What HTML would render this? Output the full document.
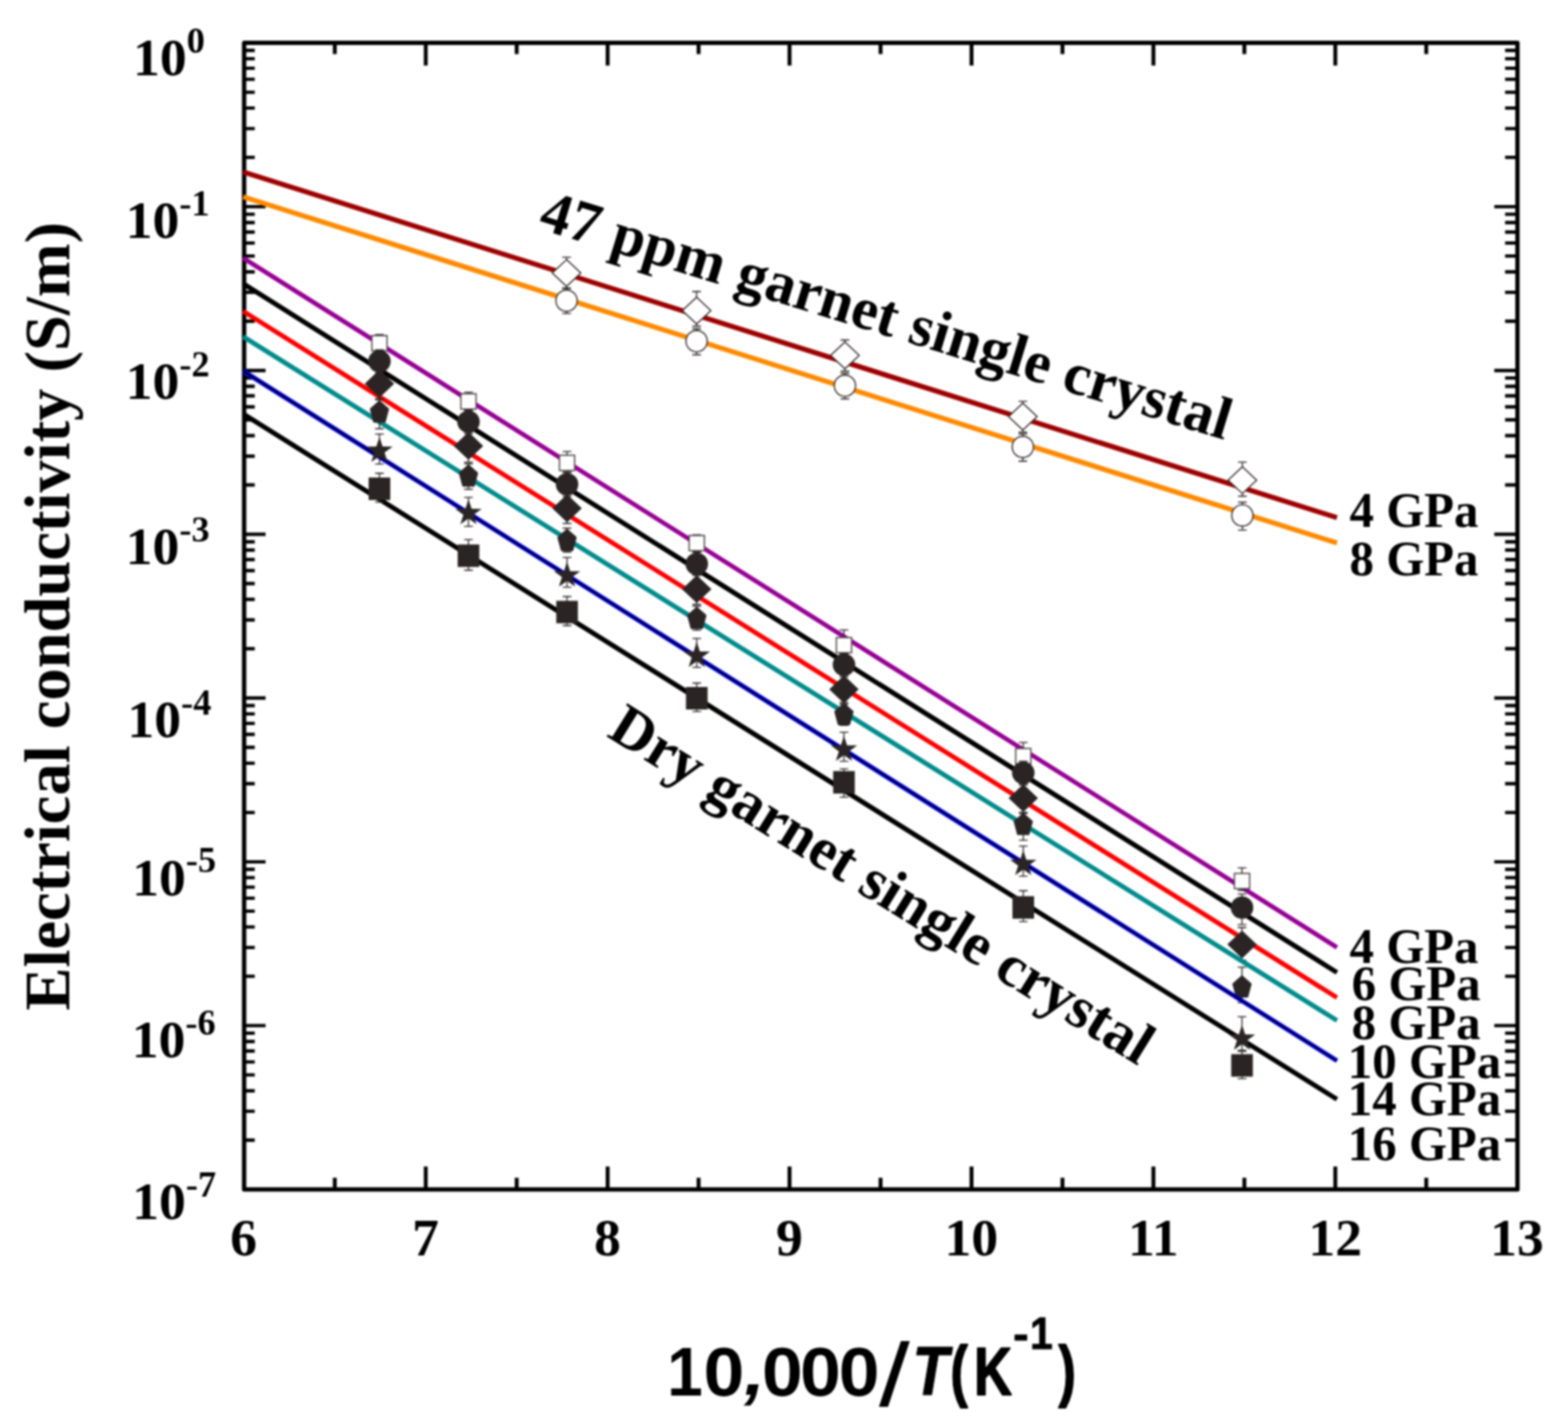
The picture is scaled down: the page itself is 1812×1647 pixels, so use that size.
<!DOCTYPE html>
<html lang="en"><head><meta charset="utf-8"><title>Electrical conductivity of garnet single crystal</title>
<style>
html,body{margin:0;padding:0;background:#fff;}
body{width:1812px;height:1647px;overflow:hidden;}
svg{display:block;}
text{font-family:"Liberation Serif",serif;font-weight:bold;fill:#000;}
.sans{font-family:"Liberation Sans",sans-serif;font-weight:bold;}
</style></head><body>
<svg width="1812" height="1647" viewBox="0 0 1812 1647">
<defs><filter id="soft" x="0" y="0" width="1812" height="1647" filterUnits="userSpaceOnUse" color-interpolation-filters="sRGB"><feGaussianBlur stdDeviation="0.85"/></filter></defs>
<rect x="0" y="0" width="1812" height="1647" fill="#ffffff"/>
<g filter="url(#soft)">
<rect x="0" y="0" width="1812" height="1647" fill="#ffffff"/>
<g id="axes" stroke="#000" fill="none" stroke-linecap="butt">
<rect x="282.1" y="49.6" width="1471.5" height="1325.1" stroke-width="5.0" stroke-linejoin="round"/>
<path stroke-width="4.5" d="M386.9 1374.7V1361.2M386.9 49.6V62.4M492.0 1374.7V1348.2M492.0 49.6V75.7M597.1 1374.7V1361.2M597.1 49.6V62.4M702.2 1374.7V1348.2M702.2 49.6V75.7M807.3 1374.7V1361.2M807.3 49.6V62.4M912.4 1374.7V1348.2M912.4 49.6V75.7M1017.6 1374.7V1361.2M1017.6 49.6V62.4M1122.7 1374.7V1348.2M1122.7 49.6V75.7M1227.8 1374.7V1361.2M1227.8 49.6V62.4M1332.9 1374.7V1348.2M1332.9 49.6V75.7M1438.0 1374.7V1361.2M1438.0 49.6V62.4M1543.1 1374.7V1348.2M1543.1 49.6V75.7M1648.2 1374.7V1361.2M1648.2 49.6V62.4"/>
<path stroke-width="3.9" d="M282.1 181.9H294.4M1753.6 181.9H1739.3M282.1 148.6H294.4M1753.6 148.6H1739.3M282.1 124.9H294.4M1753.6 124.9H1739.3M282.1 106.6H294.4M1753.6 106.6H1739.3M282.1 91.6H294.4M1753.6 91.6H1739.3M282.1 78.9H294.4M1753.6 78.9H1739.3M282.1 67.9H294.4M1753.6 67.9H1739.3M282.1 58.3H294.4M1753.6 58.3H1739.3M282.1 238.9H306.9M1753.6 238.9H1726.8M282.1 371.2H294.4M1753.6 371.2H1739.3M282.1 337.9H294.4M1753.6 337.9H1739.3M282.1 314.2H294.4M1753.6 314.2H1739.3M282.1 295.9H294.4M1753.6 295.9H1739.3M282.1 280.9H294.4M1753.6 280.9H1739.3M282.1 268.2H294.4M1753.6 268.2H1739.3M282.1 257.2H294.4M1753.6 257.2H1739.3M282.1 247.6H294.4M1753.6 247.6H1739.3M282.1 428.2H306.9M1753.6 428.2H1726.8M282.1 560.5H294.4M1753.6 560.5H1739.3M282.1 527.2H294.4M1753.6 527.2H1739.3M282.1 503.5H294.4M1753.6 503.5H1739.3M282.1 485.2H294.4M1753.6 485.2H1739.3M282.1 470.2H294.4M1753.6 470.2H1739.3M282.1 457.5H294.4M1753.6 457.5H1739.3M282.1 446.5H294.4M1753.6 446.5H1739.3M282.1 436.9H294.4M1753.6 436.9H1739.3M282.1 617.5H306.9M1753.6 617.5H1726.8M282.1 749.8H294.4M1753.6 749.8H1739.3M282.1 716.5H294.4M1753.6 716.5H1739.3M282.1 692.8H294.4M1753.6 692.8H1739.3M282.1 674.5H294.4M1753.6 674.5H1739.3M282.1 659.5H294.4M1753.6 659.5H1739.3M282.1 646.8H294.4M1753.6 646.8H1739.3M282.1 635.8H294.4M1753.6 635.8H1739.3M282.1 626.2H294.4M1753.6 626.2H1739.3M282.1 806.8H306.9M1753.6 806.8H1726.8M282.1 939.1H294.4M1753.6 939.1H1739.3M282.1 905.8H294.4M1753.6 905.8H1739.3M282.1 882.1H294.4M1753.6 882.1H1739.3M282.1 863.8H294.4M1753.6 863.8H1739.3M282.1 848.8H294.4M1753.6 848.8H1739.3M282.1 836.1H294.4M1753.6 836.1H1739.3M282.1 825.1H294.4M1753.6 825.1H1739.3M282.1 815.5H294.4M1753.6 815.5H1739.3M282.1 996.1H306.9M1753.6 996.1H1726.8M282.1 1128.4H294.4M1753.6 1128.4H1739.3M282.1 1095.1H294.4M1753.6 1095.1H1739.3M282.1 1071.4H294.4M1753.6 1071.4H1739.3M282.1 1053.1H294.4M1753.6 1053.1H1739.3M282.1 1038.1H294.4M1753.6 1038.1H1739.3M282.1 1025.4H294.4M1753.6 1025.4H1739.3M282.1 1014.4H294.4M1753.6 1014.4H1739.3M282.1 1004.8H294.4M1753.6 1004.8H1739.3M282.1 1185.4H306.9M1753.6 1185.4H1726.8M282.1 1317.7H294.4M1753.6 1317.7H1739.3M282.1 1284.4H294.4M1753.6 1284.4H1739.3M282.1 1260.7H294.4M1753.6 1260.7H1739.3M282.1 1242.4H294.4M1753.6 1242.4H1739.3M282.1 1227.4H294.4M1753.6 1227.4H1739.3M282.1 1214.7H294.4M1753.6 1214.7H1739.3M282.1 1203.7H294.4M1753.6 1203.7H1739.3M282.1 1194.1H294.4M1753.6 1194.1H1739.3"/>
</g>
<g id="series" stroke-linecap="butt">
<g id="wet4">
<line x1="281.1" y1="198.7" x2="1545.0" y2="598.3" stroke="#9e0000" stroke-width="5.8"/>
<path d="M654.7 297.3V333.0M649.7 297.3H659.7M649.7 333.0H659.7" stroke="#2b2424" stroke-width="1.3" fill="none"/><polygon points="654.7,300.1 671.2,315.6 654.7,331.1 638.2,315.6" fill="#fff" stroke="#2b2424" stroke-width="1.4"/>
<path d="M805.0 337.0V377.0M800.0 337.0H810.0M800.0 377.0H810.0" stroke="#2b2424" stroke-width="1.3" fill="none"/><polygon points="805.0,343.5 821.5,359.0 805.0,374.5 788.5,359.0" fill="#fff" stroke="#2b2424" stroke-width="1.4"/>
<path d="M976.4 393.0V429.0M971.4 393.0H981.4M971.4 429.0H981.4" stroke="#2b2424" stroke-width="1.3" fill="none"/><polygon points="976.4,395.3 992.9,410.8 976.4,426.3 959.9,410.8" fill="#fff" stroke="#2b2424" stroke-width="1.4"/>
<path d="M1182.0 463.8V499.5M1177.0 463.8H1187.0M1177.0 499.5H1187.0" stroke="#2b2424" stroke-width="1.3" fill="none"/><polygon points="1182.0,466.0 1198.5,481.5 1182.0,497.0 1165.5,481.5" fill="#fff" stroke="#2b2424" stroke-width="1.4"/>
<path d="M1435.7 534.2V573.5M1430.7 534.2H1440.7M1430.7 573.5H1440.7" stroke="#2b2424" stroke-width="1.3" fill="none"/><polygon points="1435.7,539.4 1452.2,554.9 1435.7,570.4 1419.2,554.9" fill="#fff" stroke="#2b2424" stroke-width="1.4"/>
</g>
<g id="wet8">
<line x1="281.1" y1="227.5" x2="1545.0" y2="627.6" stroke="#ff8a00" stroke-width="5.8"/>
<path d="M654.7 333.5V362.4M649.7 333.5H659.7M649.7 362.4H659.7" stroke="#2b2424" stroke-width="1.3" fill="none"/><circle cx="654.7" cy="347.5" r="12.3" fill="#fff" stroke="#2b2424" stroke-width="1.4"/>
<path d="M805.0 380.0V410.0M800.0 380.0H810.0M800.0 410.0H810.0" stroke="#2b2424" stroke-width="1.3" fill="none"/><circle cx="805.0" cy="394.3" r="12.3" fill="#fff" stroke="#2b2424" stroke-width="1.4"/>
<path d="M976.4 431.5V461.0M971.4 431.5H981.4M971.4 461.0H981.4" stroke="#2b2424" stroke-width="1.3" fill="none"/><circle cx="976.4" cy="445.8" r="12.3" fill="#fff" stroke="#2b2424" stroke-width="1.4"/>
<path d="M1182.0 501.5V533.0M1177.0 501.5H1187.0M1177.0 533.0H1187.0" stroke="#2b2424" stroke-width="1.3" fill="none"/><circle cx="1182.0" cy="516.5" r="12.3" fill="#fff" stroke="#2b2424" stroke-width="1.4"/>
<path d="M1435.7 580.5V612.6M1430.7 580.5H1440.7M1430.7 612.6H1440.7" stroke="#2b2424" stroke-width="1.3" fill="none"/><circle cx="1435.7" cy="595.7" r="12.3" fill="#fff" stroke="#2b2424" stroke-width="1.4"/>
</g>
<g id="dry16">
<line x1="281.1" y1="478.4" x2="1545.0" y2="1270.5" stroke="#000000" stroke-width="5.6"/>
<path d="M438.5 547.0V580.3M433.5 547.0H443.5M433.5 580.3H443.5" stroke="#2b2424" stroke-width="1.3" fill="none"/><rect x="426.0" y="551.9" width="25" height="26" fill="#2b2424"/>
<path d="M541.4 623.6V659.0M536.4 623.6H546.4M536.4 659.0H546.4" stroke="#2b2424" stroke-width="1.3" fill="none"/><rect x="528.9" y="629.3" width="25" height="26" fill="#2b2424"/>
<path d="M655.3 689.5V723.0M650.3 689.5H660.3M650.3 723.0H660.3" stroke="#2b2424" stroke-width="1.3" fill="none"/><rect x="642.8" y="694.4" width="25" height="26" fill="#2b2424"/>
<path d="M805.2 789.5V822.3M800.2 789.5H810.2M800.2 822.3H810.2" stroke="#2b2424" stroke-width="1.3" fill="none"/><rect x="792.7" y="794.0" width="25" height="26" fill="#2b2424"/>
<path d="M975.3 888.6V921.4M970.3 888.6H980.3M970.3 921.4H980.3" stroke="#2b2424" stroke-width="1.3" fill="none"/><rect x="962.8" y="891.2" width="25" height="26" fill="#2b2424"/>
<path d="M1182.5 1029.5V1065.2M1177.5 1029.5H1187.5M1177.5 1065.2H1187.5" stroke="#2b2424" stroke-width="1.3" fill="none"/><rect x="1170.0" y="1035.8" width="25" height="26" fill="#2b2424"/>
<path d="M1435.3 1215.0V1246.6M1430.3 1215.0H1440.3M1430.3 1246.6H1440.3" stroke="#2b2424" stroke-width="1.3" fill="none"/><rect x="1422.8" y="1218.4" width="25" height="26" fill="#2b2424"/>
</g>
<g id="dry4">
<line x1="281.1" y1="298.2" x2="1545.0" y2="1095.0" stroke="#960094" stroke-width="5.2"/>
<path d="M438.5 386.7V407.0M433.5 386.7H443.5M433.5 407.0H443.5" stroke="#2b2424" stroke-width="1.3" fill="none"/><rect x="429.7" y="387.9" width="17.6" height="17.6" fill="#fff" stroke="#4d4646" stroke-width="1.5"/>
<path d="M541.4 453.4V474.5M536.4 453.4H546.4M536.4 474.5H546.4" stroke="#2b2424" stroke-width="1.3" fill="none"/><rect x="532.6" y="455.2" width="17.6" height="17.6" fill="#fff" stroke="#4d4646" stroke-width="1.5"/>
<path d="M655.3 521.9V545.5M650.3 521.9H660.3M650.3 545.5H660.3" stroke="#2b2424" stroke-width="1.3" fill="none"/><rect x="646.5" y="526.2" width="17.6" height="17.6" fill="#fff" stroke="#4d4646" stroke-width="1.5"/>
<path d="M805.2 618.2V638.0M800.2 618.2H810.2M800.2 638.0H810.2" stroke="#2b2424" stroke-width="1.3" fill="none"/><rect x="796.4" y="618.9" width="17.6" height="17.6" fill="#fff" stroke="#4d4646" stroke-width="1.5"/>
<path d="M975.3 728.2V756.0M970.3 728.2H980.3M970.3 756.0H980.3" stroke="#2b2424" stroke-width="1.3" fill="none"/><rect x="966.5" y="736.9" width="17.6" height="17.6" fill="#fff" stroke="#4d4646" stroke-width="1.5"/>
<path d="M1182.5 858.2V884.5M1177.5 858.2H1187.5M1177.5 884.5H1187.5" stroke="#2b2424" stroke-width="1.3" fill="none"/><rect x="1173.7" y="865.1" width="17.6" height="17.6" fill="#fff" stroke="#4d4646" stroke-width="1.5"/>
<path d="M1435.3 1003.1V1029.0M1430.3 1003.1H1440.3M1430.3 1029.0H1440.3" stroke="#2b2424" stroke-width="1.3" fill="none"/><rect x="1426.5" y="1009.5" width="17.6" height="17.6" fill="#fff" stroke="#4d4646" stroke-width="1.5"/>
</g>
<g id="dry6">
<line x1="281.1" y1="327.9" x2="1545.0" y2="1124.0" stroke="#000000" stroke-width="5.6"/>
<path d="M438.5 404.5V431.0M433.5 404.5H443.5M433.5 431.0H443.5" stroke="#2b2424" stroke-width="1.3" fill="none"/><circle cx="438.5" cy="417.6" r="13" fill="#2b2424"/>
<path d="M541.4 474.0V501.0M536.4 474.0H546.4M536.4 501.0H546.4" stroke="#2b2424" stroke-width="1.3" fill="none"/><circle cx="541.4" cy="487.4" r="13" fill="#2b2424"/>
<path d="M655.3 546.0V573.5M650.3 546.0H660.3M650.3 573.5H660.3" stroke="#2b2424" stroke-width="1.3" fill="none"/><circle cx="655.3" cy="559.8" r="13" fill="#2b2424"/>
<path d="M805.2 638.0V665.0M800.2 638.0H810.2M800.2 665.0H810.2" stroke="#2b2424" stroke-width="1.3" fill="none"/><circle cx="805.2" cy="651.7" r="13" fill="#2b2424"/>
<path d="M975.3 755.0V782.0M970.3 755.0H980.3M970.3 782.0H980.3" stroke="#2b2424" stroke-width="1.3" fill="none"/><circle cx="975.3" cy="768.3" r="13" fill="#2b2424"/>
<path d="M1182.5 880.0V907.0M1177.5 880.0H1187.5M1177.5 907.0H1187.5" stroke="#2b2424" stroke-width="1.3" fill="none"/><circle cx="1182.5" cy="893.2" r="13" fill="#2b2424"/>
<path d="M1435.3 1033.4V1068.7M1430.3 1033.4H1440.3M1430.3 1068.7H1440.3" stroke="#2b2424" stroke-width="1.3" fill="none"/><circle cx="1435.3" cy="1049.0" r="13" fill="#2b2424"/>
</g>
<g id="dry8">
<line x1="281.1" y1="359.7" x2="1545.0" y2="1153.0" stroke="#ff0000" stroke-width="5.4"/>
<path d="M438.5 427.0V461.0M433.5 427.0H443.5M433.5 461.0H443.5" stroke="#2b2424" stroke-width="1.3" fill="none"/><polygon points="438.5,427.3 455.5,443.5 438.5,459.7 421.5,443.5" fill="#2b2424"/>
<path d="M541.4 499.0V534.2M536.4 499.0H546.4M536.4 534.2H546.4" stroke="#2b2424" stroke-width="1.3" fill="none"/><polygon points="541.4,499.2 558.4,515.4 541.4,531.6 524.4,515.4" fill="#2b2424"/>
<path d="M655.3 571.0V605.0M650.3 571.0H660.3M650.3 605.0H660.3" stroke="#2b2424" stroke-width="1.3" fill="none"/><polygon points="655.3,571.3 672.3,587.5 655.3,603.7 638.3,587.5" fill="#2b2424"/>
<path d="M805.2 664.0V698.5M800.2 664.0H810.2M800.2 698.5H810.2" stroke="#2b2424" stroke-width="1.3" fill="none"/><polygon points="805.2,664.7 822.2,680.9 805.2,697.1 788.2,680.9" fill="#2b2424"/>
<path d="M975.3 780.0V814.0M970.3 780.0H980.3M970.3 814.0H980.3" stroke="#2b2424" stroke-width="1.3" fill="none"/><polygon points="975.3,780.5 992.3,796.7 975.3,812.9 958.3,796.7" fill="#2b2424"/>
<path d="M1182.5 906.0V940.0M1177.5 906.0H1187.5M1177.5 940.0H1187.5" stroke="#2b2424" stroke-width="1.3" fill="none"/><polygon points="1182.5,906.2 1199.5,922.4 1182.5,938.6 1165.5,922.4" fill="#2b2424"/>
<path d="M1435.3 1072.0V1110.0M1430.3 1072.0H1440.3M1430.3 1110.0H1440.3" stroke="#2b2424" stroke-width="1.3" fill="none"/><polygon points="1435.3,1075.4 1452.3,1091.6 1435.3,1107.8 1418.3,1091.6" fill="#2b2424"/>
</g>
<g id="dry10">
<line x1="281.1" y1="389.1" x2="1545.0" y2="1179.5" stroke="#008b8b" stroke-width="5.4"/>
<path d="M438.5 462.0V495.5M433.5 462.0H443.5M433.5 495.5H443.5" stroke="#2b2424" stroke-width="1.3" fill="none"/><polygon points="438.5,463.0 449.2,472.5 445.1,488.0 431.9,488.0 427.8,472.5" fill="#2b2424" stroke="#2b2424" stroke-width="1" stroke-linejoin="round"/>
<path d="M541.4 536.0V565.5M536.4 536.0H546.4M536.4 565.5H546.4" stroke="#2b2424" stroke-width="1.3" fill="none"/><polygon points="541.4,537.0 552.1,546.5 548.0,562.0 534.8,562.0 530.6,546.5" fill="#2b2424" stroke="#2b2424" stroke-width="1" stroke-linejoin="round"/>
<path d="M655.3 610.5V638.0M650.3 610.5H660.3M650.3 638.0H660.3" stroke="#2b2424" stroke-width="1.3" fill="none"/><polygon points="655.3,611.4 666.0,620.9 661.9,636.4 648.7,636.4 644.5,620.9" fill="#2b2424" stroke="#2b2424" stroke-width="1" stroke-linejoin="round"/>
<path d="M805.2 700.5V728.3M800.2 700.5H810.2M800.2 728.3H810.2" stroke="#2b2424" stroke-width="1.3" fill="none"/><polygon points="805.2,701.6 816.0,711.1 811.8,726.6 798.6,726.6 794.5,711.1" fill="#2b2424" stroke="#2b2424" stroke-width="1" stroke-linejoin="round"/>
<path d="M975.3 812.0V838.3M970.3 812.0H980.3M970.3 838.3H980.3" stroke="#2b2424" stroke-width="1.3" fill="none"/><polygon points="975.3,812.7 986.0,822.2 981.9,837.7 968.7,837.7 964.5,822.2" fill="#2b2424" stroke="#2b2424" stroke-width="1" stroke-linejoin="round"/>
<path d="M1182.5 939.0V971.2M1177.5 939.0H1187.5M1177.5 971.2H1187.5" stroke="#2b2424" stroke-width="1.3" fill="none"/><polygon points="1182.5,939.7 1193.2,949.2 1189.1,964.7 1175.9,964.7 1171.8,949.2" fill="#2b2424" stroke="#2b2424" stroke-width="1" stroke-linejoin="round"/>
<path d="M1435.3 1117.9V1158.9M1430.3 1117.9H1440.3M1430.3 1158.9H1440.3" stroke="#2b2424" stroke-width="1.3" fill="none"/><polygon points="1435.3,1127.5 1446.0,1137.0 1441.9,1152.5 1428.7,1152.5 1424.5,1137.0" fill="#2b2424" stroke="#2b2424" stroke-width="1" stroke-linejoin="round"/>
</g>
<g id="dry14">
<line x1="281.1" y1="428.9" x2="1545.0" y2="1226.0" stroke="#0000ff" stroke-width="5.4"/>
<line x1="281.1" y1="428.9" x2="1545.0" y2="1226.0" stroke="#000010" stroke-width="1.9"/>
<path d="M438.5 501.6V536.3M433.5 501.6H443.5M433.5 536.3H443.5" stroke="#2b2424" stroke-width="1.3" fill="none"/><polygon points="438.5,505.1 442.1,516.1 453.7,516.2 444.4,523.0 447.9,534.0 438.5,527.3 429.1,534.0 432.6,523.0 423.3,516.2 434.9,516.1" fill="#2b2424"/>
<path d="M541.4 574.9V608.3M536.4 574.9H546.4M536.4 608.3H546.4" stroke="#2b2424" stroke-width="1.3" fill="none"/><polygon points="541.4,577.1 545.0,588.1 556.6,588.2 547.3,595.0 550.8,606.0 541.4,599.3 532.0,606.0 535.5,595.0 526.2,588.2 537.8,588.1" fill="#2b2424"/>
<path d="M655.3 644.3V678.6M650.3 644.3H660.3M650.3 678.6H660.3" stroke="#2b2424" stroke-width="1.3" fill="none"/><polygon points="655.3,649.2 658.9,660.2 670.5,660.3 661.2,667.1 664.7,678.1 655.3,671.4 645.9,678.1 649.4,667.1 640.1,660.3 651.7,660.2" fill="#2b2424"/>
<path d="M805.2 737.8V771.3M800.2 737.8H810.2M800.2 771.3H810.2" stroke="#2b2424" stroke-width="1.3" fill="none"/><polygon points="805.2,742.0 808.8,753.0 820.4,753.1 811.1,759.9 814.6,770.9 805.2,764.2 795.8,770.9 799.3,759.9 790.0,753.1 801.6,753.0" fill="#2b2424"/>
<path d="M975.3 846.3V879.8M970.3 846.3H980.3M970.3 879.8H980.3" stroke="#2b2424" stroke-width="1.3" fill="none"/><polygon points="975.3,850.5 978.9,861.5 990.5,861.6 981.2,868.4 984.7,879.4 975.3,872.7 965.9,879.4 969.4,868.4 960.1,861.6 971.7,861.5" fill="#2b2424"/>
<path d="M1182.5 977.8V1012.7M1177.5 977.8H1187.5M1177.5 1012.7H1187.5" stroke="#2b2424" stroke-width="1.3" fill="none"/><polygon points="1182.5,982.7 1186.1,993.7 1197.7,993.8 1188.4,1000.6 1191.9,1011.6 1182.5,1004.9 1173.1,1011.6 1176.6,1000.6 1167.3,993.8 1178.9,993.7" fill="#2b2424"/>
<path d="M1435.3 1175.2V1214.0M1430.3 1175.2H1440.3M1430.3 1214.0H1440.3" stroke="#2b2424" stroke-width="1.3" fill="none"/><polygon points="1435.3,1184.6 1438.9,1195.6 1450.5,1195.7 1441.2,1202.5 1444.7,1213.5 1435.3,1206.8 1425.9,1213.5 1429.4,1202.5 1420.1,1195.7 1431.7,1195.6" fill="#2b2424"/>
</g>
</g>
<g id="labels">
<text x="153.7" y="87.0" font-size="62">10<tspan font-size="42" dy="-26.5">0</tspan></text>
<text x="145.2" y="275.0" font-size="62">10<tspan font-size="42" dy="-26.5">-1</tspan></text>
<text x="145.2" y="461.2" font-size="62">10<tspan font-size="42" dy="-26.5">-2</tspan></text>
<text x="145.2" y="652.2" font-size="62">10<tspan font-size="42" dy="-26.5">-3</tspan></text>
<text x="147.2" y="852.0" font-size="62">10<tspan font-size="42" dy="-26.5">-4</tspan></text>
<text x="152.7" y="1034.8" font-size="62">10<tspan font-size="42" dy="-26.5">-5</tspan></text>
<text x="152.2" y="1222.2" font-size="62">10<tspan font-size="42" dy="-26.5">-6</tspan></text>
<text x="152.7" y="1409.4" font-size="62">10<tspan font-size="42" dy="-26.5">-7</tspan></text>
<text x="281.6" y="1450.5" font-size="62" text-anchor="middle">6</text>
<text x="491.8" y="1450.5" font-size="62" text-anchor="middle">7</text>
<text x="702.0" y="1450.5" font-size="62" text-anchor="middle">8</text>
<text x="912.2" y="1450.5" font-size="62" text-anchor="middle">9</text>
<text x="1122.5" y="1450.5" font-size="62" text-anchor="middle">10</text>
<text x="1332.7" y="1450.5" font-size="62" text-anchor="middle">11</text>
<text x="1542.9" y="1450.5" font-size="62" text-anchor="middle">12</text>
<text x="1753.1" y="1450.5" font-size="62" text-anchor="middle">13</text>
<text x="1559.5" y="608.6" font-size="56.5">4 GPa</text>
<text x="1559.5" y="664.6" font-size="56.5">8 GPa</text>
<text x="1559.5" y="1112.7" font-size="56.5">4 GPa</text>
<text x="1562.0" y="1156.0" font-size="56.5">6 GPa</text>
<text x="1562.0" y="1201.4" font-size="56.5">8 GPa</text>
<text x="1557.5" y="1246.0" font-size="56.5">10 GPa</text>
<text x="1557.5" y="1289.2" font-size="56.5">14 GPa</text>
<text x="1557.5" y="1341.0" font-size="56.5">16 GPa</text>
<text transform="translate(620.5,263.7) rotate(17.12)" font-size="68.97">47 ppm garnet single crystal</text>
<text transform="translate(700,850.5) rotate(31.8)" font-size="68.8">Dry garnet single crystal</text>
<text transform="translate(79.5,1168) rotate(-90)" font-size="74.6">Electrical conductivity (S/m)</text>
<text class="sans"><tspan x="771.1" y="1612.6" font-size="80.0" textLength="41.1" lengthAdjust="spacingAndGlyphs">1</tspan><tspan x="812.9" y="1612.6" font-size="80.0" textLength="47.2" lengthAdjust="spacingAndGlyphs">0</tspan><tspan x="860.0" y="1611.6" font-size="80.0" textLength="24.1" lengthAdjust="spacingAndGlyphs" font-style="italic">,</tspan><tspan x="880.6" y="1612.6" font-size="80.0" textLength="47.2" lengthAdjust="spacingAndGlyphs">0</tspan><tspan x="924.6" y="1612.6" font-size="80.0" textLength="47.2" lengthAdjust="spacingAndGlyphs">0</tspan><tspan x="969.3" y="1612.6" font-size="80.0" textLength="47.2" lengthAdjust="spacingAndGlyphs">0</tspan><tspan x="1019.0" y="1624.0" font-size="102.0" textLength="24.6" lengthAdjust="spacingAndGlyphs" font-style="italic">/</tspan><tspan x="1054.4" y="1612.1" font-size="79.0" textLength="41.6" lengthAdjust="spacingAndGlyphs" font-style="italic" stroke="#000" stroke-width="1.2" stroke-linejoin="round">T</tspan><tspan x="1098.3" y="1610.6" font-size="78.5" textLength="20.1" lengthAdjust="spacingAndGlyphs" stroke="#000" stroke-width="1.8" stroke-linejoin="round">(</tspan><tspan x="1125.7" y="1612.1" font-size="78.5" textLength="43.4" lengthAdjust="spacingAndGlyphs" stroke="#000" stroke-width="2.0" stroke-linejoin="round">K</tspan><tspan x="1170.8" y="1559.0" font-size="52.0" textLength="18.1" lengthAdjust="spacingAndGlyphs" stroke="#000" stroke-width="0.8" stroke-linejoin="round">-</tspan><tspan x="1190.3" y="1559.0" font-size="52.0" textLength="26.3" lengthAdjust="spacingAndGlyphs" stroke="#000" stroke-width="1.0" stroke-linejoin="round">1</tspan><tspan x="1223.2" y="1610.6" font-size="78.5" textLength="20.1" lengthAdjust="spacingAndGlyphs" stroke="#000" stroke-width="1.8" stroke-linejoin="round">)</tspan></text>
</g>
</g>
</svg>
</body></html>
